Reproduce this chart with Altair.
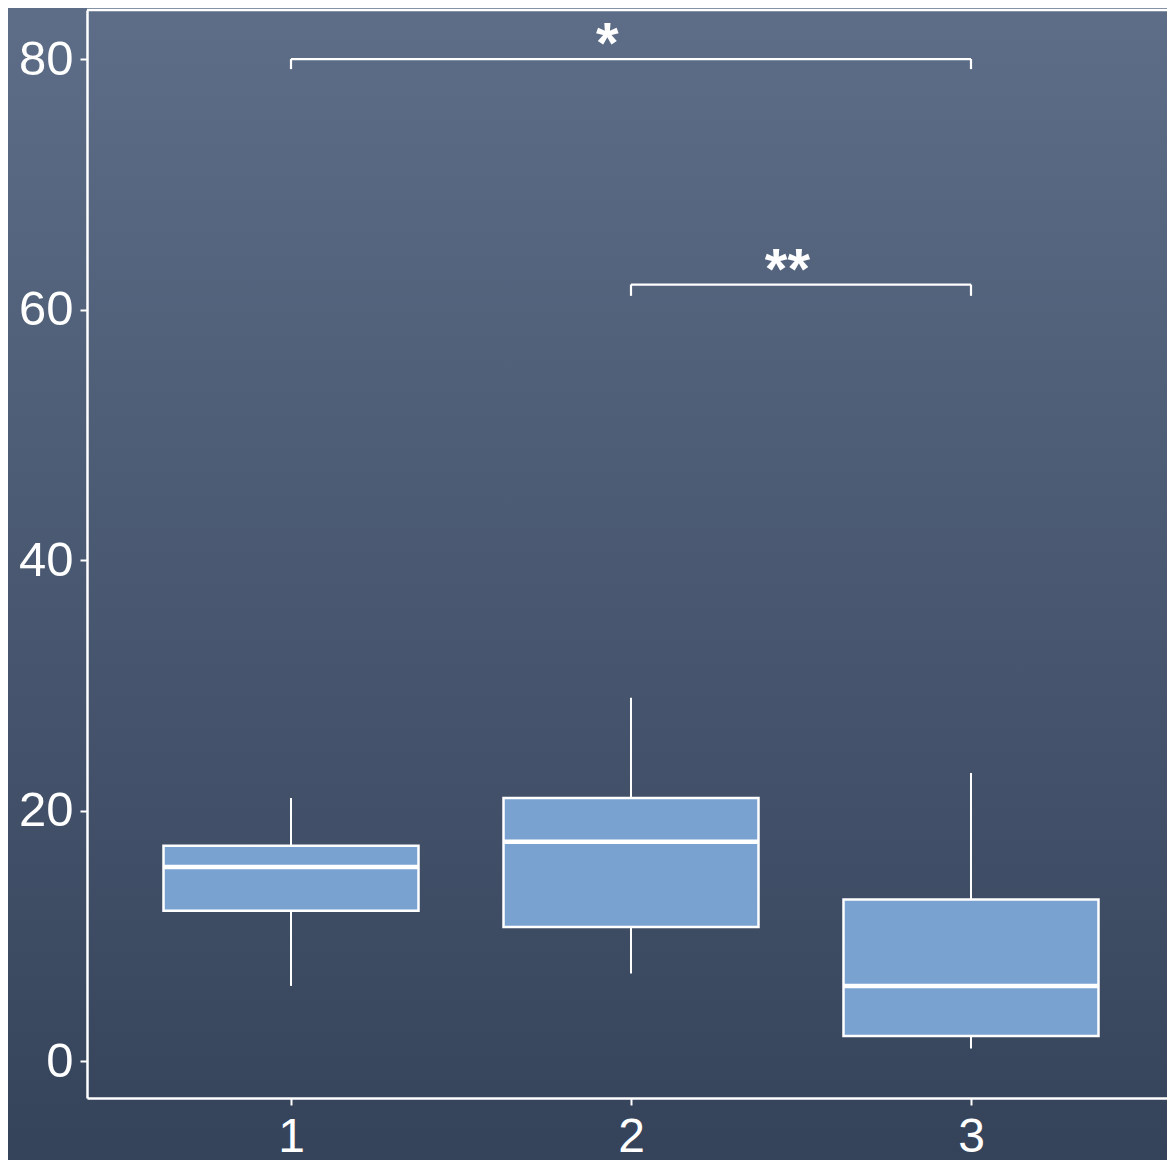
import altair as alt
import pandas as pd

# Box plot summary values
groups = [1, 2, 3]
whisker_low = [6.0, 7.0, 1.0]
q1 = [12.0, 10.7, 2.0]
median = [15.5, 17.5, 6.0]
q3 = [17.2, 21.0, 12.9]
whisker_high = [21.0, 29.0, 23.0]

# Significance brackets
br_start = [1, 2]
br_end = [3, 3]
br_y = [80.0, 62.0]
br_tip = [79.2, 61.1]
br_label = ["*", "**"]
br_label_x = [1.93, 2.46]

half_width = 0.375

boxes = pd.DataFrame({
    "g": groups, "lo": whisker_low, "q1": q1, "med": median,
    "q3": q3, "hi": whisker_high,
})
boxes["left"] = boxes["g"] - half_width
boxes["right"] = boxes["g"] + half_width

brackets = pd.DataFrame({
    "x1": br_start, "x2": br_end, "y": br_y, "tip": br_tip,
    "label": br_label, "lx": br_label_x,
})
ticks = pd.concat([
    pd.DataFrame({"x": brackets["x1"], "y": brackets["y"], "tip": brackets["tip"]}),
    pd.DataFrame({"x": brackets["x2"], "y": brackets["y"], "tip": brackets["tip"]}),
])

W = 1080
H = 1088
xscale = alt.Scale(domain=[0.4, 3.5765], nice=False, zero=False)
yscale = alt.Scale(domain=[-2.95, 83.92], nice=False, zero=False)

xaxis = alt.Axis(values=groups, format="d", title=None, grid=False, zindex=2,
                 domainColor="white", domainWidth=2.5, tickColor="white",
                 tickWidth=2, tickSize=7, labelColor="white", labelFontSize=48,
                 labelFont="Liberation Sans", labelPadding=8)
yaxis = alt.Axis(values=[0, 20, 40, 60, 80], title=None, grid=False, zindex=2,
                 domainColor="white", domainWidth=2.5, tickColor="white",
                 tickWidth=2, tickSize=7, labelColor="white", labelFontSize=49,
                 labelFont="Liberation Sans", labelPadding=7)

bg = alt.Chart(pd.DataFrame({"a": [0]})).mark_rect(
    fill=alt.Gradient(
        gradient="linear", x1=0, y1=0, x2=0, y2=1,
        stops=[alt.GradientStop(color="#5e6e88", offset=0),
               alt.GradientStop(color="#344259", offset=1)],
    ),
    stroke=None,
).encode(
    x=alt.value(-120), x2=alt.value(W + 50),
    y=alt.value(-20), y2=alt.value(H + 90),
)

base = alt.Chart(boxes)

whisk = base.mark_rule(color="white", strokeWidth=2).encode(
    x=alt.X("g:Q", scale=xscale, axis=xaxis),
    y=alt.Y("lo:Q", scale=yscale, axis=yaxis),
    y2="hi:Q",
)

rect = base.mark_rect(fill="#7aa2d0", stroke="white", strokeWidth=2.5).encode(
    x=alt.X("left:Q", scale=xscale),
    x2="right:Q",
    y=alt.Y("q1:Q", scale=yscale),
    y2="q3:Q",
)

med = base.mark_rule(color="white", strokeWidth=4.5).encode(
    x=alt.X("left:Q", scale=xscale),
    x2="right:Q",
    y=alt.Y("med:Q", scale=yscale),
)

bh = alt.Chart(brackets).mark_rule(color="white", strokeWidth=2.2).encode(
    x=alt.X("x1:Q", scale=xscale), x2="x2:Q",
    y=alt.Y("y:Q", scale=yscale),
)
bt = alt.Chart(ticks).mark_rule(color="white", strokeWidth=2.2).encode(
    x=alt.X("x:Q", scale=xscale),
    y=alt.Y("tip:Q", scale=yscale), y2="y:Q",
)
bl = alt.Chart(brackets).mark_text(
    color="white", fontSize=58, fontWeight="bold", font="Liberation Sans",
    baseline="alphabetic", align="center", dy=4,
).encode(
    x=alt.X("lx:Q", scale=xscale),
    y=alt.Y("y:Q", scale=yscale),
    text="label:N",
)

# top border
top = alt.Chart(pd.DataFrame({"a": [0]})).mark_rule(color="white", strokeWidth=2.5).encode(
    x=alt.value(0), x2=alt.value(W + 10), y=alt.value(0), y2=alt.value(0),
)

chart = alt.layer(bg, whisk, rect, med, bh, bt, bl, top).properties(
    width=W, height=H,
    autosize=alt.AutoSizeParams(type="none"),
    padding={"left": 79, "top": 2, "right": 0, "bottom": 62},
    background="#4a5872",
).configure_view(stroke=None)

chart.save("out.html", embed_options={"renderer": "svg", "actions": False})
